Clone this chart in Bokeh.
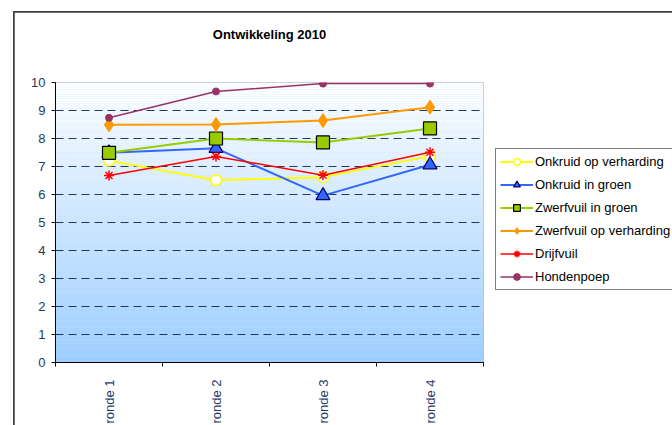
import numpy as np
from bokeh.plotting import figure
from bokeh.layouts import column
from bokeh.models import FixedTicker, Legend, LegendItem, Range1d, Title
from bokeh.embed import file_html
from bokeh.resources import INLINE

# ---- data ----
rounds = ["ronde 1", "ronde 2", "ronde 3", "ronde 4"]
onkruid_verharding = [7.21, 6.51, 6.62, 7.37]
onkruid_groen = [7.49, 7.65, 5.96, 7.06]
zwerfvuil_groen = [7.49, 8.00, 7.86, 8.36]
zwerfvuil_verharding = [8.49, 8.50, 8.64, 9.12]
drijfvuil = [6.68, 7.36, 6.69, 7.51]
hondenpoep = [8.74, 9.68, 9.96, 9.96]
y_ticks = list(range(0, 11))

x = [i + 0.5 for i in range(len(rounds))]
FONT = "Liberation Sans"
NAVY = "#1F3864"

p = figure(frame_width=428, frame_height=280, output_backend="svg", toolbar_location=None,
           x_range=Range1d(0, len(rounds)), y_range=Range1d(0, 10),
           min_border_left=41, min_border_top=70, min_border_right=175, min_border_bottom=63,
           title="Ontwikkeling 2010")
p.margin = (1, 0, 0, 1)
p.outline_line_color = None
p.background_fill_color = "#CCE5FF"
p.border_fill_color = "white"

# title
p.title.align = "center"
p.title.text_font = FONT
p.title.text_font_size = "13px"
p.title.text_font_style = "bold"
p.title.text_color = "black"
p.title.standoff = 24
# spacer between title and plot area
p.add_layout(Title(text=" ", text_font_size="1px", standoff=26), "above")

# background gradient (decoration)
n = 120
edges = np.linspace(0, 10, n + 1)
top_c = np.array([255, 255, 255])
bot_c = np.array([0x99, 0xCC, 0xFF])
cols = []
for i in range(n):
    t = (edges[i] + edges[i + 1]) / 2 / 10.0
    c = bot_c + (top_c - bot_c) * t
    cols.append("#%02x%02x%02x" % tuple(int(round(v)) for v in c))
p.quad(left=0, right=len(rounds), bottom=edges[:-1], top=edges[1:] + 0.001,
       fill_color=cols, line_color=None, level="underlay")

# axes
p.xaxis.ticker = FixedTicker(ticks=x, minor_ticks=list(range(len(rounds) + 1)))
p.xaxis.major_label_overrides = {xi: r for xi, r in zip(x, rounds)}
p.xaxis.major_label_orientation = np.pi / 2
p.xaxis.major_tick_out = 0
p.xaxis.major_tick_in = 0
p.xaxis.minor_tick_out = 4
p.xaxis.minor_tick_in = 0
p.xaxis.major_label_standoff = 13
p.yaxis.ticker = FixedTicker(ticks=y_ticks, minor_ticks=[])
p.yaxis.major_tick_out = 4
p.yaxis.major_tick_in = 0
p.yaxis.major_label_standoff = 6
for ax in (p.xaxis, p.yaxis):
    ax.axis_line_color = "black"
    ax.major_tick_line_color = "black"
    ax.minor_tick_line_color = "black"
    ax.major_label_text_font = FONT
    ax.major_label_text_font_size = "13px"
    ax.major_label_text_color = NAVY

p.xgrid.grid_line_color = None
p.ygrid.grid_line_color = NAVY
p.ygrid.grid_line_dash = "8 5"
p.ygrid.grid_line_width = 1
p.ygrid.ticker = FixedTicker(ticks=y_ticks[1:])

items = []

def series(label, ys, color, lw, marker, size, fill, outline, mlw=1.0):
    lr = p.line(x, ys, line_color=color, line_width=lw)
    sr = p.scatter(x, ys, marker=marker, size=size, fill_color=fill,
                   line_color=outline, line_width=mlw)
    items.append(LegendItem(label=label, renderers=[lr, sr]))

series("Onkruid op verharding", onkruid_verharding, "#FFFF00", 2, "circle", 11, "white", "#FFFF00", 1.5)
series("Onkruid in groen", onkruid_groen, "#3366FF", 2, "triangle", 14, "#3366FF", "#000066", 1.2)
series("Zwerfvuil in groen", zwerfvuil_groen, "#99CC00", 2, "square", 13, "#99CC00", "black", 1.2)
series("Zwerfvuil op verharding", zwerfvuil_verharding, "#FF9900", 2, "diamond", 14, "#FF9900", "#FF9900", 1)
series("Drijfvuil", drijfvuil, "#FF0000", 1.5, "asterisk", 10, "#FF0000", "#FF0000", 1.5)
series("Hondenpoep", hondenpoep, "#993366", 1.5, "circle", 7, "#993366", "#993366", 1)

legend = Legend(items=items, location=(12, 72))
legend.border_line_color = "black"
legend.border_line_width = 1
legend.background_fill_color = "white"
legend.background_fill_alpha = 1
legend.label_text_font = FONT
legend.label_text_font_size = "13px"
legend.label_text_color = "black"
legend.glyph_width = 33
legend.glyph_height = 17
legend.label_height = 17
legend.label_standoff = 2
legend.spacing = 6
legend.padding = 4
legend.margin = 0
p.add_layout(legend, "right")

layout = column(p, margin=(11, 0, 0, 13), styles={"background-color": "#404040"})

open("out.html", "w").write(file_html(layout, INLINE))
